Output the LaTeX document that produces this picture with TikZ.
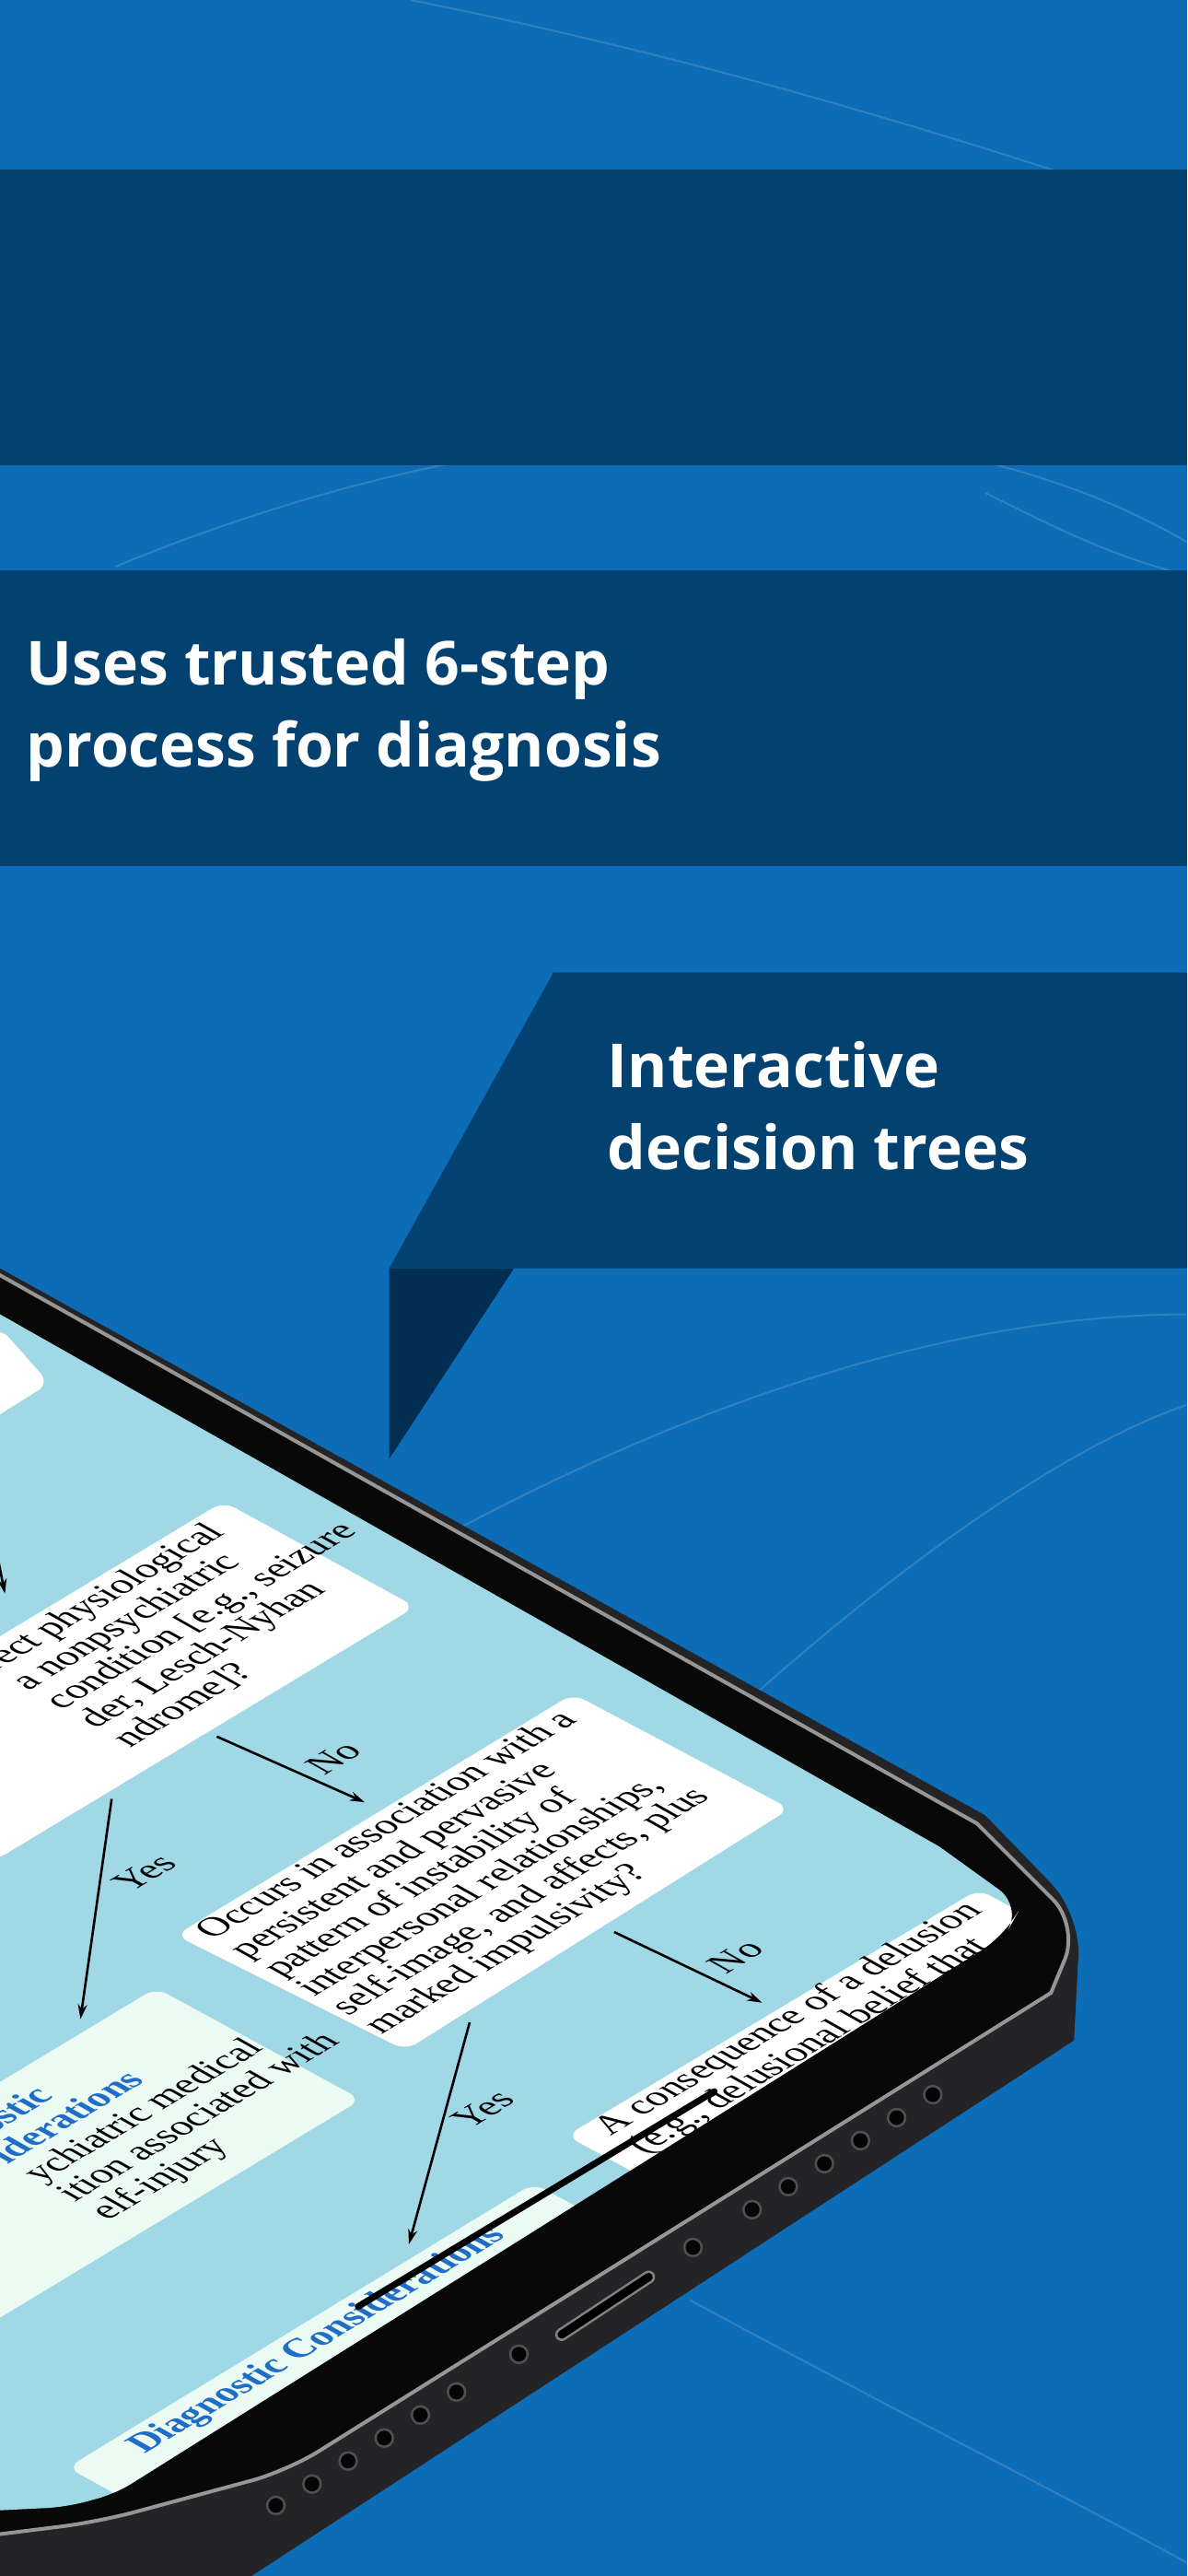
\documentclass[tikz,border=0pt]{standalone}
\usepackage{fontspec}
\setmainfont{Liberation Serif}
\newfontfamily\hd{Open Sans}
\usetikzlibrary{arrows.meta}
\definecolor{bgb}{RGB}{12,108,182}
\definecolor{navy}{RGB}{2,65,112}
\definecolor{navyd}{RGB}{2,46,82}
\definecolor{side}{RGB}{36,36,38}
\definecolor{rim}{RGB}{150,150,152}
\definecolor{bez}{RGB}{8,8,8}
\definecolor{scr}{RGB}{160,216,230}
\definecolor{grn}{RGB}{236,250,244}
\definecolor{ttl}{RGB}{30,110,200}
\definecolor{prt}{RGB}{130,130,130}
\definecolor{dot}{RGB}{5,5,5}
\definecolor{dotr}{RGB}{80,80,82}
\begin{document}
\begin{tikzpicture}[x=1.784pt,y=-1.784pt,
  bx/.style={fill=white,rounded corners=14pt,draw=none},
  gb/.style={fill=grn,rounded corners=14pt,draw=none},
  t/.style={font=\fontsize{41}{42}\selectfont,align=left,text=black,inner sep=0,cm={0.857,0.515,-0.871,0.491,(0,0)}},
  arr/.style={-{Stealth[length=16pt,width=10pt]},line width=2.6pt},
  lb/.style={font=\fontsize{41}{42}\selectfont,inner sep=0,cm={0.857,0.515,-0.871,0.491,(0,0)}},
  hdt/.style={anchor=north west,text=white,font=\hd\bfseries\fontsize{66}{89}\selectfont,align=left,inner sep=0}]
\path[use as bounding box,fill=bgb] (0,0) rectangle (723,1568);
\clip (0,0) rectangle (723,1568);
\draw[white,opacity=.15,line width=2pt] (250,0) .. controls (450,40) and (600,90) .. (723,130);
\draw[white,opacity=.15,line width=2pt] (70,345) .. controls (300,250) and (550,230) .. (723,330);
\draw[white,opacity=.15,line width=2pt] (600,300) .. controls (640,320) and (680,340) .. (723,350);
\draw[white,opacity=.15,line width=2pt] (280,930) .. controls (450,840) and (600,800) .. (723,800);
\draw[white,opacity=.15,line width=2pt] (450,1040) .. controls (550,950) and (650,880) .. (723,855);
\draw[white,opacity=.15,line width=2pt] (420,1400) .. controls (550,1470) and (650,1520) .. (723,1560);
\fill[navy] (0,103) rectangle (723,283);
\fill[navy] (0,347) rectangle (723,527);
\node[hdt] (t1) at (16,389) {Uses trusted 6-step\\process for diagnosis};
\fill[navyd] (237,772) -- (313,772) -- (237,888) -- cycle;
\fill[navy] (337,592) -- (723,592) -- (723,772) -- (237,772) -- cycle;
\node[hdt] (t2) at (370,634) {Interactive\\decision trees};
\fill[side] (0,772) -- (600,1105) [rounded corners=45pt]-- (658,1165) [sharp corners]-- (654,1242) -- (150,1570) -- (0,1570) -- cycle;
\path[fill=bez,draw=rim,line width=4pt] (-20,765) -- (595,1110) [rounded corners=40pt]-- (657,1172) [sharp corners]-- (640,1213) [rounded corners=40pt]-- (175,1504) -- (60,1535) [sharp corners]-- (-20,1545) -- cycle;
\begin{scope}
\clip (0,800) -- (572,1124) [rounded corners=30pt]-- (622,1160) -- (612,1178) [rounded corners=20pt]-- (70,1518) -- (40,1526) [sharp corners]-- (0,1528) -- cycle;
\fill[scr] (0,790) rectangle (700,1560);
\path[bx] (-100,870) -- (0,808) -- (30,842) -- (-70,905) -- cycle;
\coordinate (a0s) at (-6,925); \coordinate (a0e) at (3,970);
\draw[arr] (a0s) -- (a0e);
\path[bx] (-121,1069) -- (136,914) -- (253,978) -- (-4,1133) -- cycle;
\node[t,anchor=north west] (b1t) at (-17,1010) {rect physiological\\a nonpsychiatric\\condition [e.g., seizure\\der, Lesch-Nyhan\\ndrome]?};
\path[bx] (107,1178) -- (349,1031) -- (481,1101) -- (247,1248) -- cycle;
\node[t,anchor=north west] (b2t) at (116,1173) {Occurs in association with a\\persistent and pervasive\\pattern of instability of\\interpersonal relationships,\\self-image, and affects, plus\\marked impulsivity?};
\path[gb] (-162,1365) -- (95,1210) -- (220,1278) -- (-37,1433) -- cycle;
\node[t,anchor=north west] (b3t) at (-30,1298) {{\bfseries\color{ttl}nostic}\\{\bfseries\color{ttl}iderations}\\ychiatric medical\\ition associated with\\elf-injury};
\path[bx] (345,1300) -- (596,1150) -- (720,1218) -- (470,1368) -- cycle;
\node[t,anchor=north west] (b4t) at (358,1292) {A consequence of a delusion\\(e.g., delusional belief that};
\path[gb] (41,1502) -- (325,1329) -- (450,1397) -- (166,1570) -- cycle;
\node[t,anchor=north west] (b5t) at (74,1486) {{\bfseries\color{ttl}Diagnostic Considerations}};
\coordinate (a1s) at (132,1057); \coordinate (a1e) at (222,1097);
\draw[arr] (a1s) -- (a1e);
\node[lb] (l1) at (203,1070) {No};
\coordinate (a2s) at (68,1095); \coordinate (a2e) at (49,1229);
\draw[arr] (a2s) -- (a2e);
\node[lb] (l2) at (88,1140) {Yes};
\coordinate (a3s) at (374,1176); \coordinate (a3e) at (464,1219);
\draw[arr] (a3s) -- (a3e);
\node[lb] (l3) at (448,1191) {No};
\coordinate (a4s) at (286,1231); \coordinate (a4e) at (249,1366);
\draw[arr] (a4s) -- (a4e);
\node[lb] (l4) at (294,1284) {Yes};
\end{scope}
\coordinate (h1) at (218,1404); \coordinate (h2) at (435,1273);
\draw[black,line width=7pt,line cap=round] (h1) -- (h2);
\draw[prt,line width=14pt,line cap=round] (342,1421) -- (395,1386);
\draw[black,line width=9pt,line cap=round] (342,1421) -- (395,1386);
\foreach \p in {(168,1525),(190,1512),(212,1498),(234,1484),(256,1470),(278,1456),(316,1433),
  (422,1368),(458,1345),(480,1331),(502,1317),(524,1303),(546,1289),(568,1275)}
  {\fill[dotr] \p circle (6); \fill[dot] \p circle (4.5);}
\end{tikzpicture}
\end{document}
